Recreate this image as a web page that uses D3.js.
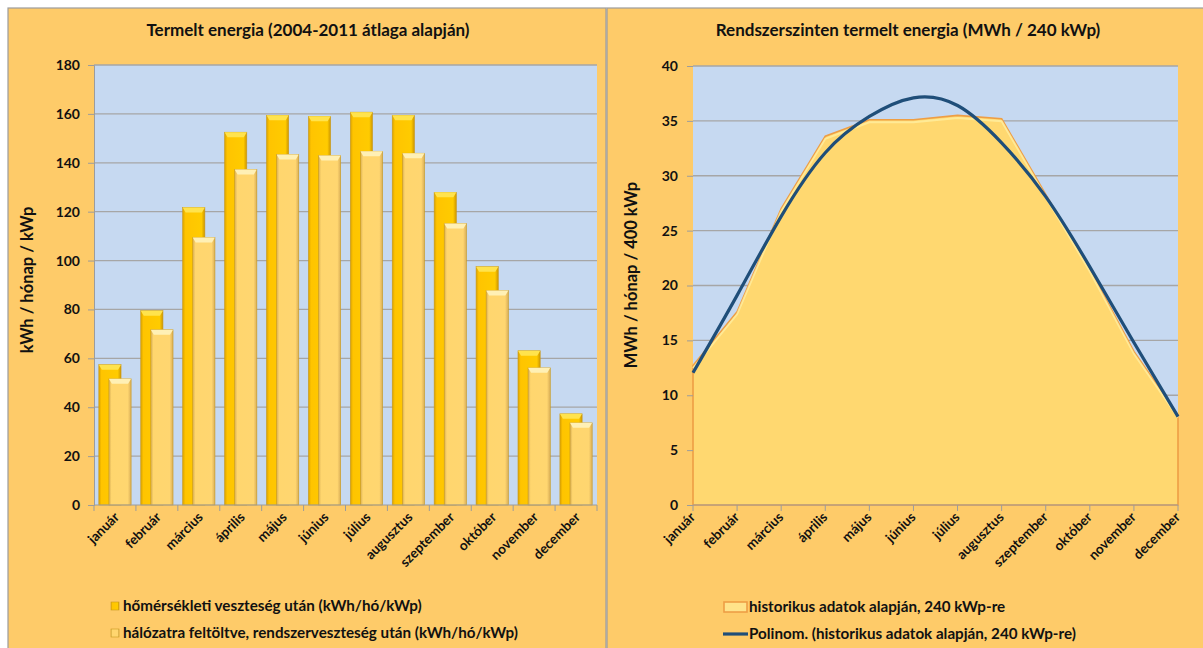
<!DOCTYPE html>
<html>
<head>
<meta charset="utf-8">
<script src="https://cdn.jsdelivr.net/npm/d3@7"></script>
<style>
  body { margin: 0; background: #fff; }
  text { font-family: Lato, "Open Sans", sans-serif; font-weight: bold; fill: #111; }
</style>
</head>
<body>
<script>
// havi adatok
const months = ['január','február','március','április','május','június','július','augusztus','szeptember','október','november','december'];
const afterTemp = [57.4, 79.5, 121.7, 152.5, 159.4, 159.0, 160.7, 159.4, 127.9, 97.5, 63.1, 37.3];
const gridFed   = [51.6, 71.7, 109.4, 137.3, 143.4, 143.0, 144.7, 143.9, 115.2, 87.7, 56.1, 33.6];
const leftTicks = [0, 20, 40, 60, 80, 100, 120, 140, 160, 180];

const historic  = [12.7, 17.6, 27.0, 33.6, 35.1, 35.1, 35.5, 35.2, 28.3, 21.5, 14.0, 8.2];
const trend     = [12.05, 19.1, 26.3, 32.1, 35.4, 37.1, 36.4, 33.0, 28.1, 21.7, 14.8, 8.05];
const rightTicks = [0, 5, 10, 15, 20, 25, 30, 35, 40];

const legendLeft = ['hőmérsékleti veszteség után (kWh/hó/kWp)', 'hálózatra feltöltve, rendszerveszteség után (kWh/hó/kWp)'];
const legendRight = ['historikus adatok alapján, 240 kWp-re', 'Polinom. (historikus adatok alapján, 240 kWp-re)'];

const
  W = 1203, H = 648,
  panelFill = '#FECB69',
  plotFill = '#C6D9F1',
  gridColor = '#A6A6A6',
  tickFont = '14px',
  labFont = '13.5px',
  legFont = '15.2px',
  titleFont = '17px'
  ;

const svg = d3.select('body').append('svg')
  .attr('width', W)
  .attr('height', H)
  ;

const defs = svg.append('defs');
const hGrad = (id, stops) => {
  let g = defs.append('linearGradient').attr('id', id)
    .attr('x1', 0).attr('x2', 1).attr('y1', 0).attr('y2', 0);
  stops.forEach(s => g.append('stop').attr('offset', s[0]).attr('stop-color', s[1]));
};
hGrad('gDark', [[0, '#D9A200'], [0.12, '#FFC400'], [0.85, '#FFCB00'], [1, '#CC9600']]);
hGrad('gLight', [[0, '#D7AE55'], [0.12, '#FFD66E'], [0.85, '#FFD670'], [1, '#D9AE58']]);

// paneles hátterek
svg.append('rect').attr('x', 8).attr('y', 8).attr('width', 598).attr('height', H)
  .attr('fill', panelFill).attr('stroke', '#9C9C9C').attr('stroke-width', 1.2);
svg.append('rect').attr('x', 607).attr('y', 8).attr('width', 600).attr('height', H)
  .attr('fill', panelFill).attr('stroke', '#9C9C9C').attr('stroke-width', 1.2);

// ---------- bal oldali diagram ----------
let
  xL = d3.scaleBand().domain(months).range([94, 597]),
  yL = d3.scaleLinear().domain([0, 180]).range([505, 65]),
  bw = xL.bandwidth(),
  left = svg.append('g')
  ;

left.append('text')
  .attr('x', 308).attr('y', 36)
  .attr('text-anchor', 'middle')
  .style('font-size', titleFont)
  .text('Termelt energia (2004-2011 átlaga alapján)')
  ;

left.append('rect')
  .attr('x', 94).attr('y', yL(180))
  .attr('width', 597 - 94).attr('height', yL(0) - yL(180))
  .attr('fill', plotFill)
  ;

left.selectAll('line.grid')
  .data(leftTicks.filter(d => d > 0))
  .join('line')
  .attr('x1', 94).attr('x2', 597)
  .attr('y1', d => yL(d)).attr('y2', d => yL(d))
  .attr('stroke', gridColor).attr('stroke-width', 1.3)
  ;

let yAxisL = left.append('g')
  .attr('transform', 'translate(94,0)')
  .call(d3.axisLeft(yL).tickValues(leftTicks).tickSize(6).tickPadding(8))
  ;
yAxisL.select('.domain').attr('stroke', '#9C9C9C');
yAxisL.selectAll('line').attr('stroke', '#9C9C9C');
yAxisL.selectAll('text').style('font-size', tickFont).style('font-family', 'Lato').attr('fill', '#111');

left.append('text')
  .attr('transform', 'translate(33,280) rotate(-90)')
  .attr('text-anchor', 'middle')
  .style('font-size', '16.5px')
  .text('kWh / hónap / kWp')
  ;

// oszlopok
const bar = (g, x, w, v, fillId, cap) => {
  let top = yL(v), bottom = yL(0);
  g.append('rect')
    .attr('x', x).attr('y', top)
    .attr('width', w).attr('height', bottom - top)
    .attr('fill', `url(#${fillId})`)
    .attr('stroke', '#C99A1E').attr('stroke-width', 0.6)
    ;
  g.append('path')
    .attr('d', `M${x},${top}L${x + w},${top}L${x + w - 3},${top + 5}L${x + 3},${top + 5}Z`)
    .attr('fill', cap)
    ;
};

let groups = left.selectAll('g.month')
  .data(months)
  .join('g')
  .attr('class', 'month')
  ;
groups.each((m, i, t) => {
  let
    g = d3.select(t[i]),
    x0 = xL(m) + bw * 0.115,
    w = bw * 0.53
    ;
  bar(g, x0, w, afterTemp[i], 'gDark', '#FFE34D');
  bar(g, x0 + bw * 0.24, w, gridFed[i], 'gLight', '#FFF0B5');
});

// x tengely
left.append('line')
  .attr('x1', 94).attr('x2', 597)
  .attr('y1', yL(0)).attr('y2', yL(0))
  .attr('stroke', '#9C9C9C')
  ;
left.selectAll('line.xtick')
  .data(months.map(m => xL(m)).concat([xL(months[11]) + bw]))
  .join('line')
  .attr('x1', d => d).attr('x2', d => d)
  .attr('y1', yL(0)).attr('y2', yL(0) + 6)
  .attr('stroke', '#9C9C9C')
  ;
left.selectAll('text.xlab')
  .data(months)
  .join('text')
  .attr('transform', d => `translate(${xL(d) + bw / 2 + 5},${yL(0) + 13}) rotate(-45)`)
  .attr('text-anchor', 'end')
  .style('font-size', labFont)
  .text(d => d)
  ;

// jelmagyarázat
let legL = left.selectAll('g.leg')
  .data(legendLeft)
  .join('g')
  .attr('transform', (d, i) => `translate(111,${606 + i * 27})`)
  ;
legL.append('rect')
  .attr('x', 0).attr('y', -4)
  .attr('width', 8).attr('height', 8)
  .attr('fill', (d, i) => i ? 'url(#gLight)' : 'url(#gDark)')
  .attr('stroke', '#C99A1E').attr('stroke-width', 0.6)
  ;
legL.append('text')
  .attr('x', 12).attr('y', 5)
  .style('font-size', legFont)
  .text(d => d)
  ;

// ---------- jobb oldali diagram ----------
let
  xR = d3.scalePoint().domain(months).range([693, 1178]),
  yR = d3.scaleLinear().domain([0, 40]).range([505, 66]),
  right = svg.append('g')
  ;

right.append('text')
  .attr('x', 908).attr('y', 36)
  .attr('text-anchor', 'middle')
  .style('font-size', titleFont)
  .text('Rendszerszinten termelt energia (MWh / 240 kWp)')
  ;

right.append('rect')
  .attr('x', 693).attr('y', yR(40))
  .attr('width', 1178 - 693).attr('height', yR(0) - yR(40))
  .attr('fill', plotFill)
  ;

right.selectAll('line.grid')
  .data(rightTicks.filter(d => d > 0))
  .join('line')
  .attr('x1', 693).attr('x2', 1178)
  .attr('y1', d => yR(d)).attr('y2', d => yR(d))
  .attr('stroke', gridColor).attr('stroke-width', 1.3)
  ;

let pts = months.map((m, i) => ({m: m, h: historic[i], t: trend[i]}));

right.append('path')
  .datum(pts)
  .attr('d', d3.area().x(d => xR(d.m)).y0(yR(0)).y1(d => yR(d.h)))
  .attr('fill', '#FFD870')
  .attr('stroke', '#EE9E45').attr('stroke-width', 1.6)
  ;
right.append('path')
  .datum(pts)
  .attr('d', d3.line().x(d => xR(d.m)).y(d => yR(d.h) + 2.5))
  .attr('fill', 'none')
  .attr('stroke', '#FFEFA0').attr('stroke-width', 2).attr('opacity', 0.8)
  ;

right.append('path')
  .datum(pts)
  .attr('d', d3.line().curve(d3.curveNatural).x(d => xR(d.m)).y(d => yR(d.t)))
  .attr('fill', 'none')
  .attr('stroke', '#1F4E79').attr('stroke-width', 3.2)
  ;

let yAxisR = right.append('g')
  .attr('transform', 'translate(693,0)')
  .call(d3.axisLeft(yR).tickValues(rightTicks).tickSize(6).tickPadding(9))
  ;
yAxisR.select('.domain').remove();
yAxisR.selectAll('line').attr('stroke', '#9C9C9C');
yAxisR.selectAll('text').style('font-size', tickFont).style('font-family', 'Lato').attr('fill', '#111');

right.append('text')
  .attr('transform', 'translate(637,275) rotate(-90)')
  .attr('text-anchor', 'middle')
  .style('font-size', '16.5px')
  .text('MWh / hónap / 400 kWp')
  ;

right.append('line')
  .attr('x1', 693).attr('x2', 1178)
  .attr('y1', yR(0)).attr('y2', yR(0))
  .attr('stroke', '#9C9C9C')
  ;
right.selectAll('line.xtick')
  .data(months)
  .join('line')
  .attr('x1', d => xR(d)).attr('x2', d => xR(d))
  .attr('y1', yR(0)).attr('y2', yR(0) + 6)
  .attr('stroke', '#9C9C9C')
  ;
right.selectAll('text.xlab')
  .data(months)
  .join('text')
  .attr('transform', d => `translate(${xR(d) + 3},${yR(0) + 13}) rotate(-45)`)
  .attr('text-anchor', 'end')
  .style('font-size', labFont)
  .text(d => d)
  ;

let legR = right.selectAll('g.leg')
  .data(legendRight)
  .join('g')
  .attr('transform', (d, i) => `translate(723,${607 + i * 27})`)
  ;
legR.filter((d, i) => i === 0)
  .append('rect')
  .attr('x', 1).attr('y', -5)
  .attr('width', 23).attr('height', 10)
  .attr('fill', '#FFE38A')
  .attr('stroke', '#EE9E45').attr('stroke-width', 1.6)
  ;
legR.filter((d, i) => i === 1)
  .append('line')
  .attr('x1', 0).attr('x2', 25)
  .attr('y1', 0).attr('y2', 0)
  .attr('stroke', '#1F4E79').attr('stroke-width', 3.2)
  ;
legR.append('text')
  .attr('x', 26).attr('y', 5)
  .style('font-size', legFont)
  .text(d => d)
  ;
</script>
</body>
</html>
